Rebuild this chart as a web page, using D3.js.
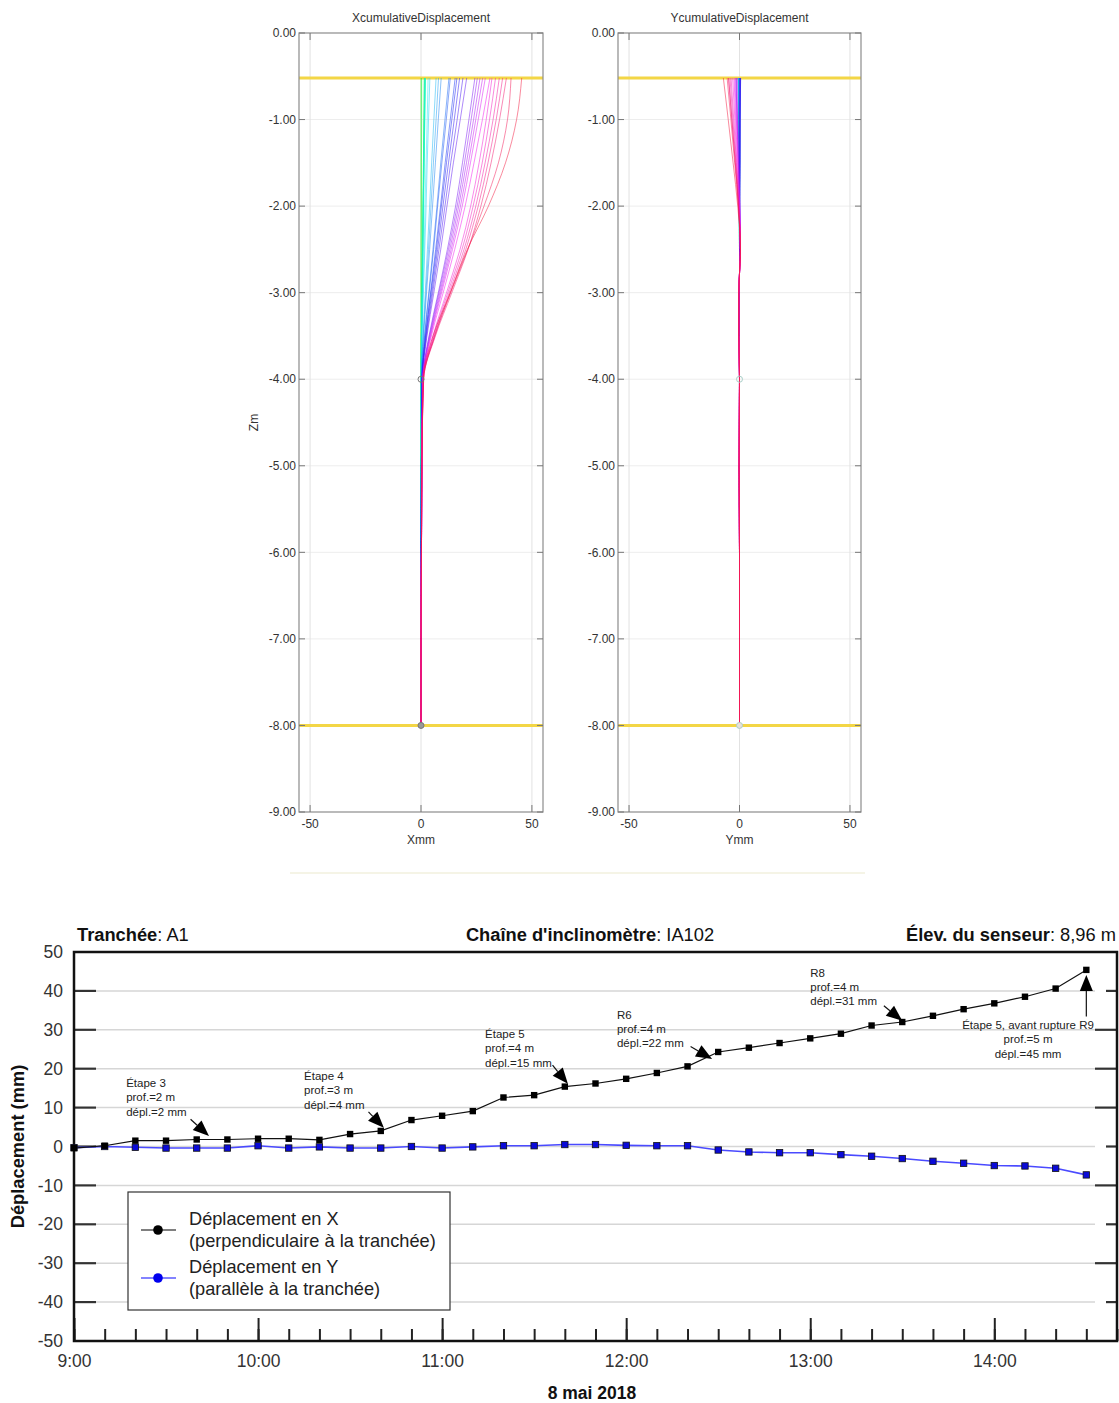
<!DOCTYPE html>
<html><head><meta charset="utf-8">
<script src="https://cdn.jsdelivr.net/npm/d3@7"></script>
<style>
body{margin:0;background:#fff;}
svg{display:block;font-family:"Liberation Sans",Arial,sans-serif;}
</style></head><body>
<svg id="c" width="1119" height="1403"></svg>
<script>
// ---------- Top panels: cumulative displacement profiles ----------
const depths = [-8, -7, -6, -5, -4, -3.5, -3, -2.5, -2, -1.5, -1, -0.52];
const profilesX = [
 [0,0,0,0,0,0,0,0,0,0,0,0],
 [0,0,0,0,0,0,0.1,0.1,0.2,0.2,0.3,0.3],
 [0,0,0,0,0,0.2,0.4,0.6,0.9,1.1,1.3,1.5],
 [0,0,0,0,0,0.2,0.4,0.7,0.9,1.1,1.3,1.5],
 [0,0,0,0,0.1,0.2,0.5,0.8,1.0,1.3,1.5,1.8],
 [0,0,0,0,0.1,0.2,0.5,0.8,1.0,1.3,1.6,1.8],
 [0,0,0,0,0.1,0.3,0.6,0.9,1.1,1.4,1.7,2.0],
 [0,0,0,0,0.1,0.3,0.6,0.9,1.2,1.4,1.7,2.0],
 [0,0,0,0,0.1,0.2,0.5,0.7,1.0,1.2,1.5,1.7],
 [0,0,0,0,0.1,0.4,0.9,1.4,1.8,2.3,2.8,3.2],
 [0,0,0.1,0.2,0.1,0.5,1.1,1.7,2.3,2.8,3.4,4.0],
 [0,0,0.1,0.2,0.2,0.9,1.9,2.9,3.9,4.8,5.8,6.8],
 [0,0,0.1,0.2,0.2,1.0,2.2,3.4,4.5,5.6,6.8,7.9],
 [0,0,0.1,0.2,0.3,1.2,2.5,3.9,5.2,6.5,7.8,9.1],
 [0,0,0.1,0.2,0.4,1.6,3.5,5.4,7.2,8.9,10.8,12.6],
 [0,0,0.1,0.2,0.4,1.7,3.7,5.7,7.5,9.4,11.4,13.2],
 [0,0,0.1,0.2,0.5,2.0,4.3,6.6,8.8,10.9,13.2,15.4],
 [0,0,0.1,0.2,0.5,2.1,4.5,7.0,9.2,11.5,13.9,16.2],
 [0,0,0.1,0.2,0.5,2.3,4.9,7.5,9.9,12.4,15.0,17.4],
 [0,0,0.1,0.2,0.6,2.5,5.3,8.1,10.8,13.4,16.3,18.9],
 [0,0,0.1,0.2,0.6,2.7,5.8,8.9,11.7,14.6,17.7,20.6],
 [0,0,0.2,0.4,0.7,3.6,7.8,11.9,15.6,18.7,21.6,24.3],
 [0,0,0.2,0.4,0.8,3.8,8.1,12.4,16.3,19.6,22.6,25.4],
 [0,0,0.2,0.4,0.8,4.0,8.5,13.0,17.0,20.5,23.7,26.6],
 [0,0,0.2,0.4,0.8,4.2,8.9,13.6,17.8,21.4,24.7,27.8],
 [0,0,0.2,0.4,0.9,4.4,9.3,14.2,18.6,22.3,25.8,29.0],
 [0,0,0.2,0.4,0.9,4.7,10.0,15.2,19.9,23.9,27.7,31.1],
 [0,0,0.2,0.4,1.0,5.4,11.5,17.6,22.4,26.2,29.4,32.0],
 [0,0,0.2,0.4,1.0,5.7,12.1,18.5,23.5,27.6,30.9,33.6],
 [0,0,0.2,0.4,1.1,6.0,12.7,19.4,24.7,28.9,32.5,35.3],
 [0,0,0.2,0.4,1.1,6.3,13.2,20.2,25.8,30.2,33.9,36.8],
 [0,0,0.2,0.4,1.2,6.5,13.9,21.2,27.0,31.6,35.4,38.5],
 [0,0,0.2,0.4,1.2,6.1,13.4,21.1,28.4,34.9,39.0,40.6],
 [0,0,0.2,0.4,0.9,5.4,13.2,20.9,30.4,38.1,43.1,45.4]
];
const profilesY = [
 [0,0,0,0,0,0,0,0,0,-0.1,-0.2,-0.3],
 [0,0,0,0,0,0,0,0,0,0,0,0],
 [0,0,0,0,0,0,0,0,0,-0.1,-0.1,-0.2],
 [0,0,0,0,0,0,0,0,-0.1,-0.2,-0.3,-0.4],
 [0,0,0,0,0,0,0,0,-0.1,-0.2,-0.3,-0.4],
 [0,0,0,0,0,0,0,0,-0.1,-0.2,-0.3,-0.4],
 [0,0,0,0,0,0,0,0,0,0.1,0.1,0.2],
 [0,0,0,0,0,0,0,0,-0.1,-0.2,-0.3,-0.4],
 [0,0,0,0,0,0,0,0,0,0,-0.1,-0.1],
 [0,0,0,0,0,0,0,0,-0.1,-0.2,-0.3,-0.4],
 [0,0,0,0,0,0,0,0,-0.1,-0.2,-0.3,-0.4],
 [0,0,0,0,0,0,0,0,0,0,0,0],
 [0,0,0,0,0,0,0,0,-0.1,-0.2,-0.3,-0.4],
 [0,0,0,0,0,0,0,0,0,0,-0.1,-0.1],
 [0,0,0,0,0,0,0,0,0,0.1,0.1,0.2],
 [0,0,0,0,0,0,0,0,0,0.1,0.1,0.2],
 [0,0,0,0,0,0,0,0,0.1,0.2,0.3,0.5],
 [0,0,0,0,0,0,0,0,0.1,0.2,0.3,0.5],
 [0,0,0,0,0,0,0,0,0,0.1,0.2,0.3],
 [0,0,0,0,0,0,0,0,0,0.1,0.1,0.2],
 [0,0,0,0,0,0,0,0,0,0.1,0.1,0.2],
 [0,0,0,-0.2,0,-0.3,-0.3,0.4,0.2,-0.2,-0.6,-0.9],
 [0,0,0,-0.2,0,-0.3,-0.3,0.4,0.1,-0.4,-0.9,-1.4],
 [0,0,0,-0.2,0,-0.3,-0.3,0.4,0.1,-0.5,-1.1,-1.6],
 [0,0,0,-0.2,0,-0.3,-0.3,0.4,0.1,-0.5,-1.1,-1.6],
 [0,0,0,-0.2,0,-0.3,-0.3,0.4,0.0,-0.7,-1.4,-2.1],
 [0,0,0,-0.2,0,-0.3,-0.3,0.4,-0.1,-0.9,-1.7,-2.5],
 [0,0,0,-0.2,0,-0.3,-0.3,0.4,-0.2,-1.2,-2.1,-3.1],
 [0,0,0,-0.2,0,-0.3,-0.3,0.4,-0.3,-1.4,-2.6,-3.8],
 [0,0,0,-0.2,0,-0.3,-0.3,0.4,-0.3,-1.6,-3.0,-4.3],
 [0,0,0,-0.2,0,-0.3,-0.3,0.4,-0.4,-1.9,-3.4,-4.9],
 [0,0,0,-0.2,0,-0.3,-0.3,0.4,-0.5,-1.9,-3.5,-5.0],
 [0,0,0,-0.2,0,-0.3,-0.3,0.4,-0.5,-2.2,-3.9,-5.6],
 [0,0,0,-0.2,0,-0.3,-0.3,0.4,-0.8,-2.9,-5.1,-7.3]
];
const sensorDepths = [-4, -8];
const referenceDepths = [-0.52, -8];
const profileZTicks = [0, -1, -2, -3, -4, -5, -6, -7, -8, -9];
const profileMmTicks = [-50, 0, 50];

// ---------- Bottom chart: displacement vs time ----------
const times = ["9:00","9:10","9:20","9:30","9:40","9:50",
 "10:00","10:10","10:20","10:30","10:40","10:50",
 "11:00","11:10","11:20","11:30","11:40","11:50",
 "12:00","12:10","12:20","12:30","12:40","12:50",
 "13:00","13:10","13:20","13:30","13:40","13:50",
 "14:00","14:10","14:20","14:30"];
const dispX = [-0.4,0.2,1.5,1.5,1.8,1.8, 2.0,2.0,1.7,3.2,4.0,6.8,
 7.9,9.1,12.6,13.2,15.4,16.2, 17.4,18.9,20.6,24.3,25.4,26.6,
 27.8,29.0,31.1,32.0,33.6,35.3, 36.8,38.5,40.6,45.4];
const dispY = [-0.3,0.0,-0.2,-0.4,-0.4,-0.4, 0.2,-0.4,-0.1,-0.4,-0.4,0.0,
 -0.4,-0.1,0.2,0.2,0.5,0.5, 0.3,0.2,0.2,-0.9,-1.4,-1.6,
 -1.6,-2.1,-2.5,-3.1,-3.8,-4.3, -4.9,-5.0,-5.6,-7.3];
const yTickValues = [-50,-40,-30,-20,-10,0,10,20,30,40,50];
const hourTicks = ["9:00","10:00","11:00","12:00","13:00","14:00"];
const annotations = [
 {lines:["Étape 3","prof.=2 m","dépl.=2 mm"], text:["9:17",15.3], tail:["9:38",7.0], tip:["9:44",2.7], anchor:"start"},
 {lines:["Étape 4","prof.=3 m","dépl.=4 mm"], text:["10:15",17.1], tail:["10:36",8.9], tip:["10:41",4.8], anchor:"start"},
 {lines:["Étape 5","prof.=4 m","dépl.=15 mm"], text:["11:14",27.9], tail:["11:36",20.9], tip:["11:41",16.1], anchor:"start"},
 {lines:["R6","prof.=4 m","dépl.=22 mm"], text:["11:57",32.9], tail:["12:21",25.7], tip:["12:28",22.5], anchor:"start"},
 {lines:["R8","prof.=4 m","dépl.=31 mm"], text:["13:00",43.7], tail:["13:24",36.2], tip:["13:30",32.3], anchor:"start"},
 {lines:["Étape 5, avant rupture R9","prof.=5 m","dépl.=45 mm"], text:["14:11",30.2], tail:["14:30",33.4], tip:["14:30",44.1], anchor:"middle"}
];

const svg = d3.select("#c");
const hy = s => String(s).replace(/\u2212/g, "-");

// ================= top profile panels =================
function drawPanel(opt){
  const g = svg.append("g");
  const x = d3.scaleLinear().domain([-55,55]).range([opt.x0, opt.x1]);
  const y = d3.scaleLinear().domain([0,-9]).range([33, 812]);
  const [x0,x1] = x.range(), [y0,y1] = y.range();
  g.selectAll(".hg").data(profileZTicks.slice(1,-1)).join("line")
    .attr("x1",x0).attr("x2",x1).attr("y1",d=>y(d)).attr("y2",d=>y(d))
    .attr("stroke","#ededed").attr("stroke-width",1);
  g.selectAll(".vg").data(profileMmTicks).join("line")
    .attr("x1",d=>x(d)).attr("x2",d=>x(d)).attr("y1",y0).attr("y2",y1)
    .attr("stroke","#e2e2e2").attr("stroke-width",1);
  g.selectAll(".ref").data(referenceDepths).join("line")
    .attr("x1",x0).attr("x2",x1).attr("y1",d=>y(d)).attr("y2",d=>y(d))
    .attr("stroke","#f3d646").attr("stroke-width",3);
  const n = opt.profiles.length;
  const line = d3.line().x(d=>x(d[1])).y(d=>y(d[0])).curve(d3.curveMonotoneY);
  opt.profiles.forEach((p,i)=>{
    const pts = depths.map((z,k)=>[z,p[k]]).reverse();
    const c = d3.hsl(120 + i*230/(n-1), 0.9, 0.52);
    g.append("path").attr("d",line(pts)).attr("fill","none")
      .attr("stroke",c.formatHex()).attr("stroke-width",1)
      .attr("stroke-opacity",0.5);
  });
  g.selectAll(".sc").data(sensorDepths).join("circle")
    .attr("cx",x(0)).attr("cy",d=>y(d)).attr("r",3)
    .attr("fill",(d,i)=> i===1 ? opt.endFill : "none")
    .attr("stroke",opt.circleStroke).attr("stroke-width",1);
  g.append("rect").attr("x",x0).attr("y",y0).attr("width",x1-x0).attr("height",y1-y0)
    .attr("fill","none").attr("stroke","#8c8c8c").attr("stroke-width",1.2);
  profileZTicks.forEach(z=>{
    g.append("line").attr("x1",x0).attr("x2",x0+6).attr("y1",y(z)).attr("y2",y(z)).attr("stroke","#777");
    g.append("line").attr("x1",x1-6).attr("x2",x1).attr("y1",y(z)).attr("y2",y(z)).attr("stroke","#777");
  });
  profileMmTicks.forEach(v=>{
    g.append("line").attr("x1",x(v)).attr("x2",x(v)).attr("y1",y0).attr("y2",y0+7).attr("stroke","#777");
    g.append("line").attr("x1",x(v)).attr("x2",x(v)).attr("y1",y1-7).attr("y2",y1).attr("stroke","#777");
  });
  const fmt = d3.format(".2f");
  g.selectAll(".yl").data(profileZTicks).join("text")
    .attr("x",x0-3).attr("y",d=>y(d)).attr("dy","0.35em").attr("text-anchor","end")
    .attr("font-size",12).attr("fill","#333").text(d=>hy(fmt(d)));
  g.selectAll(".xl").data(profileMmTicks).join("text")
    .attr("x",d=>x(d)).attr("y",y1+16).attr("text-anchor","middle")
    .attr("font-size",12).attr("fill","#333").text(d=>hy(d));
  g.append("text").attr("x",(x0+x1)/2).attr("y",y1+32).attr("text-anchor","middle")
    .attr("font-size",12).attr("fill","#333").text(opt.xTitle);
  g.append("text").attr("x",(x0+x1)/2).attr("y",22).attr("text-anchor","middle")
    .attr("font-size",12).attr("fill","#333").text(opt.title);
  if(opt.zTitle){
    g.append("text").attr("transform",`translate(${x0-41},${(y0+y1)/2}) rotate(-90)`)
      .attr("text-anchor","middle").attr("font-size",12).attr("fill","#333").text(opt.zTitle);
  }
}
drawPanel({x0:299,x1:543,profiles:profilesX,title:"XcumulativeDisplacement",xTitle:"Xmm",zTitle:"Zm",circleStroke:"#777",endFill:"#999"});
drawPanel({x0:618,x1:861,profiles:profilesY,title:"YcumulativeDisplacement",xTitle:"Ymm",zTitle:null,circleStroke:"#aacfc8",endFill:"#e8e0d8"});
svg.append("line").attr("x1",290).attr("x2",865).attr("y1",873).attr("y2",873)
  .attr("stroke","#f5f4e6").attr("stroke-width",2);

// ================= bottom time chart =================
const parse = d3.timeParse("%H:%M");
const bx = d3.scaleTime().domain([parse("9:00"), parse("14:40")]).range([74, 1117]);
const by = d3.scaleLinear().domain([-50, 50]).range([1341, 952]);
const B = svg.append("g");
const L = bx.range()[0], R = bx.range()[1], T = by.range()[1], Bt = by.range()[0];
const FONT = "'Liberation Sans',Arial,sans-serif";

B.selectAll(".g").data(yTickValues.slice(1,-1)).join("line")
  .attr("x1",L+22).attr("x2",R-22).attr("y1",d=>by(d)).attr("y2",d=>by(d))
  .attr("stroke","#d6d6d6").attr("stroke-width",1.5);
B.selectAll(".tl").data(yTickValues.slice(1,-1)).join("line")
  .attr("x1",L).attr("x2",L+22).attr("y1",d=>by(d)).attr("y2",d=>by(d))
  .attr("stroke","#333").attr("stroke-width",2.2);
B.selectAll(".tr").data(yTickValues.slice(1,-1)).join("line")
  .attr("x1",(d,i)=> R - ([11,22,11,22,11,22,22,22,11][i])).attr("x2",R)
  .attr("y1",d=>by(d)).attr("y2",d=>by(d))
  .attr("stroke","#333").attr("stroke-width",2.2);
const minorAxis = d3.axisTop(bx).ticks(d3.timeMinute.every(10)).tickSize(12).tickFormat("");
B.append("g").attr("transform",`translate(0,${Bt})`).call(minorAxis)
  .call(a=>{a.select(".domain").remove(); a.selectAll("line").attr("stroke","#222").attr("stroke-width",2);});
const majorAxis = d3.axisTop(bx).tickValues(hourTicks.map(parse)).tickSize(23).tickFormat("");
B.append("g").attr("transform",`translate(0,${Bt})`).call(majorAxis)
  .call(a=>{a.select(".domain").remove(); a.selectAll("line").attr("stroke","#222").attr("stroke-width",2);});
const labAxis = d3.axisBottom(bx).tickValues(hourTicks.map(parse)).tickSize(0).tickPadding(14)
  .tickFormat(d3.timeFormat("%-H:%M"));
B.append("g").attr("transform",`translate(0,${Bt})`).call(labAxis)
  .call(a=>{a.select(".domain").remove(); a.selectAll("text").attr("font-size",17.5).attr("fill","#333")
     .attr("font-family",FONT);});
const yAxis = d3.axisLeft(by).tickValues(yTickValues).tickSize(0).tickPadding(11).tickFormat(d=>hy(d));
B.append("g").attr("transform",`translate(${L},0)`).call(yAxis)
  .call(a=>{a.select(".domain").remove(); a.selectAll("text").attr("font-size",17.5).attr("fill","#333")
     .attr("font-family",FONT);});
B.append("rect").attr("x",L).attr("y",T).attr("width",R-L).attr("height",Bt-T)
  .attr("fill","none").attr("stroke","#111").attr("stroke-width",2.5);

const ptsX = times.map((t,i)=>({t:parse(t), v:dispX[i]}));
const ptsY = times.map((t,i)=>({t:parse(t), v:dispY[i]}));
const ln = d3.line().x(d=>bx(d.t)).y(d=>by(d.v));
B.append("path").attr("d",ln(ptsY)).attr("fill","none").attr("stroke","#4a4aff").attr("stroke-width",1.6);
B.append("path").attr("d",ln(ptsX)).attr("fill","none").attr("stroke","#111").attr("stroke-width",1.2);
B.selectAll(".my").data(ptsY).join("rect")
  .attr("x",d=>bx(d.t)-3.2).attr("y",d=>by(d.v)-3.2).attr("width",6.4).attr("height",6.4)
  .attr("fill","#0a0ad8").attr("stroke","#111").attr("stroke-width",0.8);
B.selectAll(".mx").data(ptsX).join("rect")
  .attr("x",d=>bx(d.t)-3.2).attr("y",d=>by(d.v)-3.2).attr("width",6.4).attr("height",6.4)
  .attr("fill","#000");

annotations.forEach(a=>{
  const tx = bx(parse(a.text[0])), ty = by(a.text[1]);
  const t0 = [bx(parse(a.tail[0])), by(a.tail[1])];
  const t1 = [bx(parse(a.tip[0])), by(a.tip[1])];
  const dx = t1[0]-t0[0], dy = t1[1]-t0[1], len = Math.hypot(dx,dy);
  const ux = dx/len, uy = dy/len, hl = 16, hw = 6.5;
  const bxp = t1[0]-ux*hl, byp = t1[1]-uy*hl;
  B.append("line").attr("x1",t0[0]).attr("y1",t0[1]).attr("x2",bxp).attr("y2",byp)
    .attr("stroke","#111").attr("stroke-width",1.2);
  B.append("path").attr("d",`M${t1[0]},${t1[1]}L${bxp - uy*hw},${byp + ux*hw}L${bxp + uy*hw},${byp - ux*hw}Z`)
    .attr("fill","#000");
  const tt = B.append("text").attr("font-size",11.5).attr("fill","#222").attr("text-anchor",a.anchor);
  a.lines.forEach((s,k)=> tt.append("tspan").attr("x",tx).attr("y",ty + k*14.3).text(s));
});

function header(x, anchor, bold, normal){
  const t = svg.append("text").attr("x",x).attr("y",941).attr("text-anchor",anchor)
    .attr("font-size",18.3).attr("fill","#111");
  t.append("tspan").attr("font-weight","bold").text(bold);
  t.append("tspan").text(normal);
}
header(77,"start","Tranchée",": A1");
header(590,"middle","Chaîne d'inclinomètre",": IA102");
header(1116,"end","Élev. du senseur",": 8,96 m");

svg.append("text").attr("transform",`translate(24,${(T+Bt)/2}) rotate(-90)`)
  .attr("text-anchor","middle").attr("font-size",18.3).attr("font-weight","bold").attr("fill","#111")
  .text("Déplacement (mm)");
svg.append("text").attr("x",592).attr("y",1399).attr("text-anchor","middle")
  .attr("font-size",17.5).attr("font-weight","bold").attr("fill","#111").text("8 mai 2018");

const lg = svg.append("g");
lg.append("rect").attr("x",128).attr("y",1192).attr("width",322).attr("height",118)
  .attr("fill","#fff").attr("stroke","#333").attr("stroke-width",1.2);
const legendItems = [
  {l1:"Déplacement en X", l2:"(perpendiculaire à la tranchée)", line:"#555", dot:"#000", y:1230},
  {l1:"Déplacement en Y", l2:"(parallèle à la tranchée)", line:"#5a5aff", dot:"#0000ee", y:1278}
];
legendItems.forEach(it=>{
  lg.append("line").attr("x1",141).attr("x2",176).attr("y1",it.y).attr("y2",it.y)
    .attr("stroke",it.line).attr("stroke-width",1.6);
  lg.append("circle").attr("cx",158).attr("cy",it.y).attr("r",4.8).attr("fill",it.dot);
  const t = lg.append("text").attr("font-size",18.2).attr("fill","#222");
  t.append("tspan").attr("x",189).attr("y",it.y-5).text(it.l1);
  t.append("tspan").attr("x",189).attr("y",it.y+17).text(it.l2);
});
</script>
</body></html>
